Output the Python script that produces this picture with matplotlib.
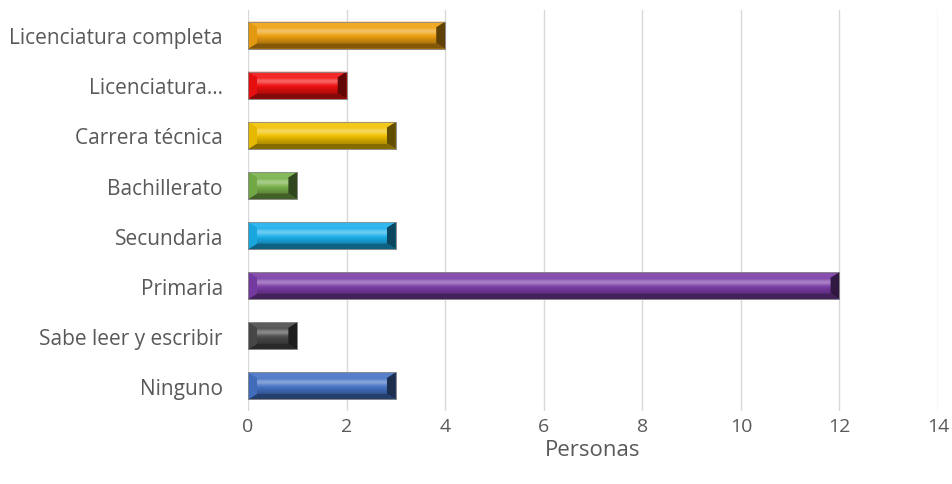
import numpy as np
import matplotlib.pyplot as plt
from matplotlib.patches import Polygon
from matplotlib.colors import to_rgb

categories = ["Ninguno", "Sabe leer y escribir", "Primaria", "Secundaria",
              "Bachillerato", "Carrera técnica", "Licenciatura…",
              "Licenciatura completa"]
personas = [3, 1, 12, 3, 1, 3, 2, 4]
colores = ["#4472C4", "#4A4A4A", "#7A3CA6", "#1BB0EC",
           "#78B04A", "#F2C200", "#F21010", "#EEA010"]

plt.rcParams["font.family"] = ["Open Sans", "DejaVu Sans"]

fig = plt.figure(figsize=(9.53, 4.85), dpi=100)
ax = fig.add_axes([0.2602, 0.1505, 0.7241, 0.8265])

y = np.arange(len(categories))
bar_h = 0.54
bars = ax.barh(y, personas, height=bar_h, color=colores,
               edgecolor="#8C8C8C", linewidth=0.6, zorder=2)


def shade(c, f):
    r = np.array(to_rgb(c))
    if f >= 0:
        return tuple(r + (1 - r) * f)
    return tuple(r * (1 + f))


# bevelled look: light top edge, dark bottom edge, shaded ends
bx = 0.18
by = 0.11
for bar, c in zip(bars, colores):
    x0, yb = bar.get_x(), bar.get_y()
    x1, yt = x0 + bar.get_width(), yb + bar.get_height()
    top = [(x0, yt), (x1, yt), (x1 - bx, yt - by), (x0 + bx, yt - by)]
    bot = [(x0, yb), (x1, yb), (x1 - bx, yb + by), (x0 + bx, yb + by)]
    left = [(x0, yt), (x0 + bx, yt - by), (x0 + bx, yb + by), (x0, yb)]
    right = [(x1, yt), (x1 - bx, yt - by), (x1 - bx, yb + by), (x1, yb)]

    # face with a vertical gradient: bright band above the middle
    n = 64
    t = np.linspace(0, 1, n)  # 0 = top of face, 1 = bottom
    light = np.array(shade(c, 0.35))
    base = np.array(to_rgb(c))
    dark = np.array(shade(c, -0.25))
    w = np.exp(-((t - 0.3) / 0.18) ** 2)
    col = base * (1 - w[:, None]) + light * w[:, None]
    k = np.clip((t - 0.55) / 0.45, 0, 1)[:, None]
    col = col * (1 - k) + dark * k
    img = np.repeat(col[:, None, :], 2, axis=1)
    ax.imshow(img, extent=(x0 + bx, x1 - bx, yb + by, yt - by),
              aspect="auto", origin="upper", zorder=3, interpolation="bilinear")

    ax.add_patch(Polygon(top, closed=True, color=shade(c, 0.1), lw=0, zorder=3))
    ax.add_patch(Polygon(bot, closed=True, color=shade(c, -0.45), lw=0, zorder=3))
    ax.add_patch(Polygon(left, closed=True, color=shade(c, -0.05), lw=0, zorder=3))
    ax.add_patch(Polygon(right, closed=True, color=shade(c, -0.6), lw=0, zorder=3))
    ax.add_patch(Polygon([(x0, yb), (x1, yb), (x1, yt), (x0, yt)], closed=True,
                         fill=False, ec="#8C8C8C", lw=0.6, zorder=4))

ax.set_xlim(0, 14)
ax.set_xticks(range(0, 15, 2))
ax.set_ylim(-0.5, len(categories) - 0.5)
ax.set_yticks(y)
ax.set_yticklabels(categories)

ax.grid(axis="x", color="#D9D9D9", linewidth=1, zorder=0)
ax.set_axisbelow(True)
for s in ax.spines.values():
    s.set_visible(False)
ax.tick_params(axis="y", length=0, pad=18, labelsize=15, labelcolor="#595959")
ax.tick_params(axis="x", length=0, pad=4, labelsize=14, labelcolor="#595959")
ax.set_xlabel("Personas", fontsize=16, color="#595959", labelpad=3)

fig.savefig("out.png", dpi=100)
